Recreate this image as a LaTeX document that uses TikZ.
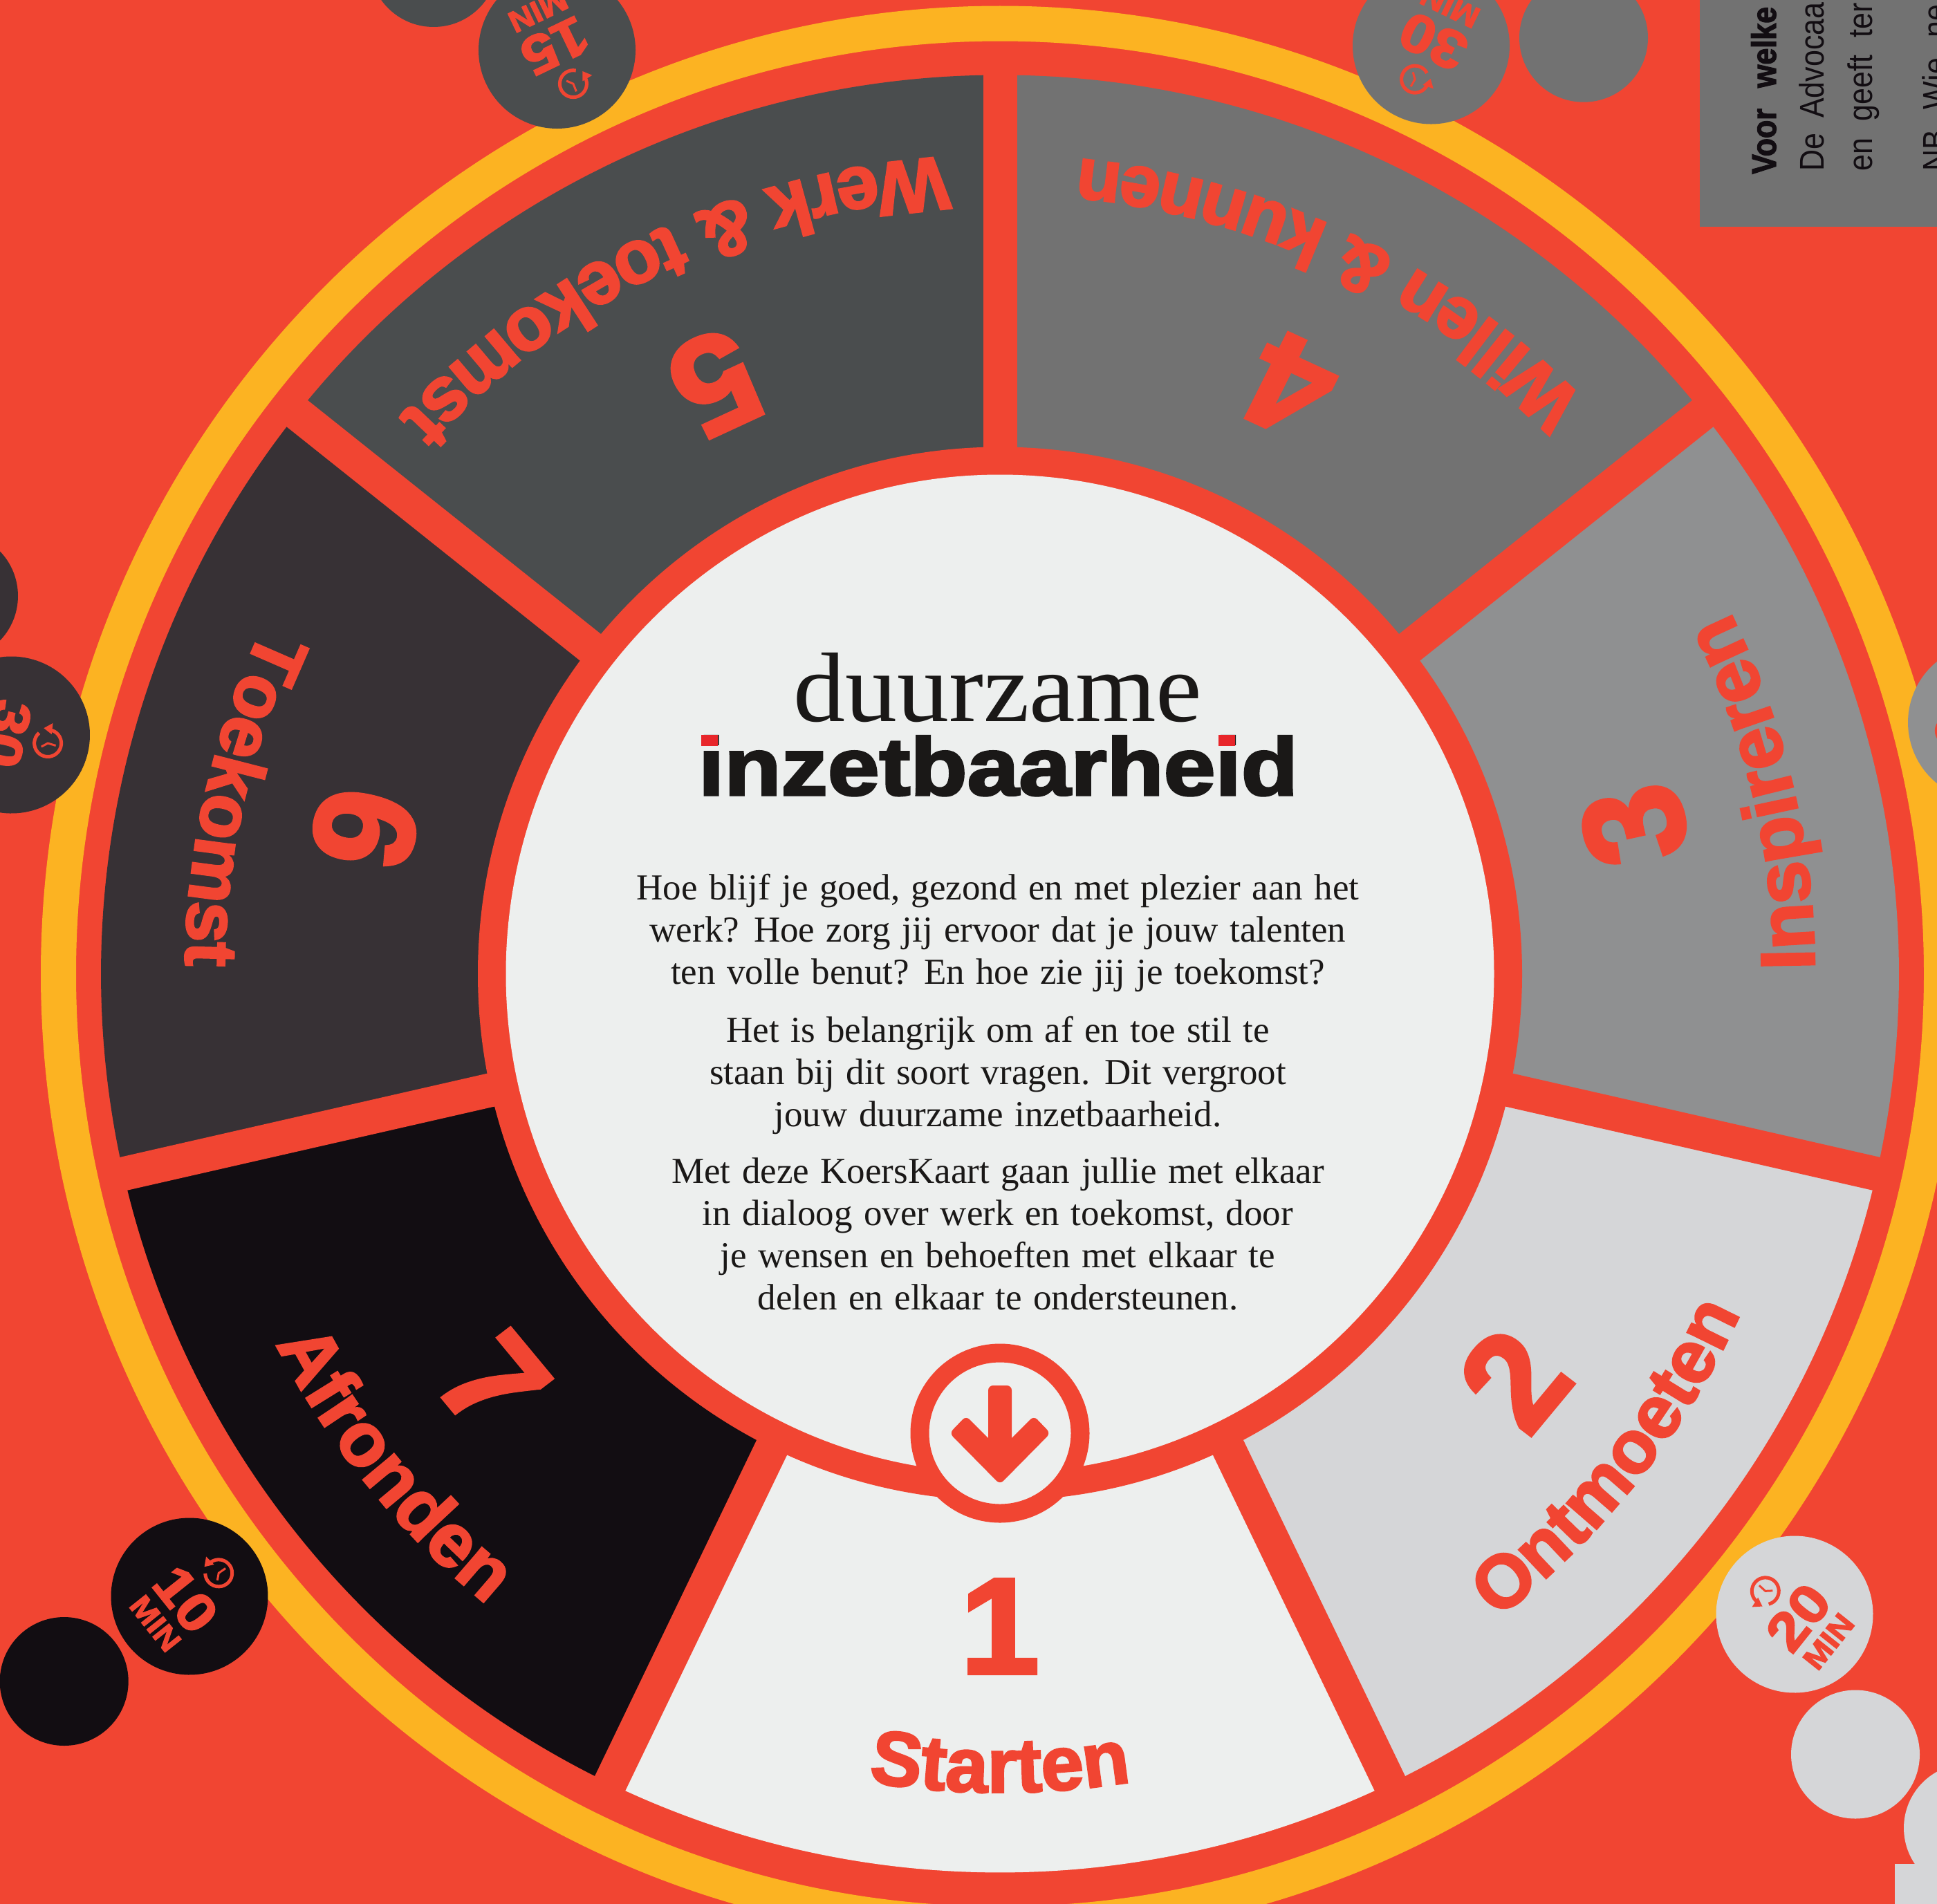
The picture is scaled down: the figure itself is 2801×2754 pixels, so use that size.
\documentclass[tikz,border=0pt]{standalone}
\usepackage{fontspec}
\usetikzlibrary{decorations.text}
\setmainfont{Liberation Serif}
\newfontfamily\plainsans{Liberation Sans}
\newfontfamily\heavyfam[BoldFeatures={FakeBold=2.6}]{Liberation Sans}
\newcommand\heavy[1]{\heavyfam\bfseries\fontsize{#1}{#1}\selectfont}
\definecolor{bgred}{HTML}{F14532}
\definecolor{ringyel}{HTML}{FCB322}
\definecolor{w1}{HTML}{EDEFEE}
\definecolor{w2}{HTML}{D5D6D8}
\definecolor{w3}{HTML}{8F9091}
\definecolor{w4}{HTML}{727272}
\definecolor{w5}{HTML}{4A4D4E}
\definecolor{w6}{HTML}{373135}
\definecolor{w7}{HTML}{120D12}
\definecolor{ink}{HTML}{1A1817}
\definecolor{dotred}{HTML}{E8262A}
\tikzset{
  digit/.style={text=bgred,inner sep=0pt,font=\heavy{198},xscale=1.04,transform shape},
  badgenum/.style={text=bgred,inner sep=0pt,font=\heavy{78},xscale=1.12,transform shape},
  badgemin/.style={text=bgred,inner sep=0pt,font=\heavy{44},xscale=1.1,transform shape},
  para/.style={text=ink,inner sep=0pt,anchor=north,align=center,font={\fontsize{53}{61}\selectfont\spaceskip=16.5pt\relax}},
  sidetext/.style={text=w7,inner sep=0pt,anchor=base west,rotate=90,yscale=1.15,transform shape},
  sidereg/.style={sidetext,font={\plainsans\fontsize{43}{43}\selectfont\spaceskip=#1\relax}},
  curved/.style 2 args={decorate,decoration={text along path,text align=center,text={|\heavy{#1}\color{bgred}|#2}}}
}
% name, x, y, rotation, colour, number
\newcommand\badge[6]{%
  \begin{scope}[shift={(#2,-#3)},rotate=#4]
    \fill[#5] (0,0) circle[radius=113.5];
    \begin{scope}[shift={(0,54)}]
      \draw[bgred,line width=5pt] (233:19.5) arc[start angle=233,end angle=540,radius=19.5];
      \fill[bgred] (-30,0.7) -- (-20,-10.5) -- (-13.8,2.5) -- cycle;
      \draw[bgred,line width=3pt] (0.8,12) -- (0,0) -- (7,-8);
    \end{scope}
    \node[badgenum] (#1num) at (0,-7) {#6};
    \node[badgemin] (#1min) at (0,-63) {MIN};
  \end{scope}}
\newcommand\sector[3]{\fill[#1] (0,0) -- (#2:1300 and 1300) arc[start angle=#2,end angle=#3,x radius=1300,y radius=1300] -- cycle;}
\begin{document}
\begin{tikzpicture}[x=1pt,y=1pt]
\clip (0,0) rectangle (2801,-2754);
\fill[bgred] (0,0) rectangle (2801,-2754);
% side panels
\fill[w4] (2457.5,0) rectangle (2801,-328);
\fill[w2] (2740,-2696) rectangle (2801,-2754);
\node[sidetext,font={\heavy{43}\spaceskip=30pt\relax}] (voor) at (2568,-252) {Voor welke};
\node[sidereg=22pt] (advo) at (2637,-248) {De Advocaa};
\node[sidereg=25pt] (geeft) at (2707,-248) {en geeft ter};
\node[sidereg=30pt] (nb) at (2815,-248) {NB Wie ne};
% yellow ring and centre group
\begin{scope}[shift={(1446,-1408.5)}]
  \fill[ringyel,even odd rule] (0,0) ellipse[x radius=1387,y radius=1400] (0,0) ellipse[x radius=1336,y radius=1349];
\end{scope}
% plain circles
\fill[w7] (92.7,-2432) circle[radius=93];
\fill[w2] (2683,-2537.5) circle[radius=93];
\fill[w2] (2846,-2644) circle[radius=93];
\fill[w5] (627,54) circle[radius=93];
\fill[w4] (2290,-54.7) circle[radius=93];
\fill[w6] (-67,-862) circle[radius=93];
% badges
\badge{b7}{274}{2309}{308.57}{w7}{10}
\badge{b2}{2595}{2335}{51.43}{w2}{20}
\badge{b5}{805.5}{72.5}{205.7}{w5}{15}
\badge{b4}{2069.5}{66}{154.28}{w4}{30}
\badge{b6}{16.5}{1063}{257.14}{w6}{30}
\badge{b3}{2872.5}{1045}{102.86}{w3}{}
\begin{scope}[shift={(1446,-1408.5)}]
  \sector{w1}{-115.71}{-64.29}
  \sector{w2}{-64.29}{-12.86}
  \sector{w3}{-12.86}{38.57}
  \sector{w4}{38.57}{90}
  \sector{w5}{90}{141.43}
  \sector{w6}{141.43}{192.86}
  \sector{w7}{192.86}{244.29}
  \foreach \a in {-115.71,-64.29,-12.86,38.57,90,141.43,192.86}
    \draw[bgred,line width=49pt] (0,0) -- (\a:1318);
  \fill[bgred] (0,0) ellipse[x radius=755,y radius=762];
  \fill[w1] (0,0) ellipse[x radius=714.5,y radius=722];
  % digits
  \node[digit,rotate=0] (d1) at (-90:944) {1};
  \node[digit,rotate=51.43] (d2) at (-38.3:947) {2};
  \node[digit,rotate=102.86] (d3) at (13.2:942) {3};
  \node[digit,rotate=154.28] (d4) at (63.7:948) {4};
  \node[digit,rotate=205.71] (d5) at (115.71:949) {5};
  \node[digit,rotate=257.14] (d6) at (167.14:942) {6};
  \node[digit,rotate=308.57] (d7) at (218.9:942) {7};
  % curved labels
  \path[curved={111}{Starten}] (-115:1184) arc[start angle=-115,end angle=-65,radius=1184];
  \path[curved={108}{Ontmoeten}] (-64:1178) arc[start angle=-64,end angle=-13,radius=1178];
  \path[curved={106}{Willen {\&} kunnen}] (39:1184) arc[start angle=39,end angle=90,radius=1184];
  \path[curved={110}{Werk {\&} toekomst}] (90:1184) arc[start angle=90,end angle=141,radius=1184];
  \path[curved={107}{Toekomst}] (141.5:1178) arc[start angle=141.5,end angle=192.8,radius=1178];
  \path[curved={110}{Afronden}] (193.5:1176) arc[start angle=193.5,end angle=244.5,radius=1176];
  \path[curved={111}{Inspireren}] (-12.3:1178) arc[start angle=-12.3,end angle=39,radius=1178];
\end{scope}
% arrow button
\fill[w1] (1446,-2073) circle[radius=116];
\draw[bgred,line width=27pt] (1446,-2073) circle[radius=116];
\begin{scope}[shift={(1446,-2073)}]
  \fill[bgred,rounded corners=7pt] (49,25) -- (0,-24) -- (-49,25) -- (-73,0) -- (0,-74) -- (73,0) -- cycle;
  \fill[bgred,rounded corners=7pt] (-17,69) rectangle (17,-30);
\end{scope}
% title
\node[text=ink,inner sep=0pt,anchor=base,font=\fontsize{143}{143}\selectfont,xscale=1.048,transform shape] (title1) at (1443,-1043) {duurzame};
\node[text=ink,inner sep=0pt,anchor=base,font=\heavy{118},xscale=1.14,transform shape] (title2) at (1443.5,-1150) {inzetbaarheid};
\fill[dotred] (1014,-1063) rectangle (1038,-1079);
\fill[dotred] (1762,-1063) rectangle (1786,-1079);
% body
\node[para] (p1) at (1443,-1264) {Hoe blijf je goed, gezond en met plezier aan het\\werk? Hoe zorg jij ervoor dat je jouw talenten\\ten volle benut? En hoe zie jij je toekomst?};
\node[para] (p2) at (1443,-1470) {Het is belangrijk om af en toe stil te\\staan bij dit soort vragen. Dit vergroot\\jouw duurzame inzetbaarheid.};
\node[para] (p3) at (1443,-1675) {Met deze KoersKaart gaan jullie met elkaar\\in dialoog over werk en toekomst, door\\je wensen en behoeften met elkaar te\\delen en elkaar te ondersteunen.};
\end{tikzpicture}
\end{document}
